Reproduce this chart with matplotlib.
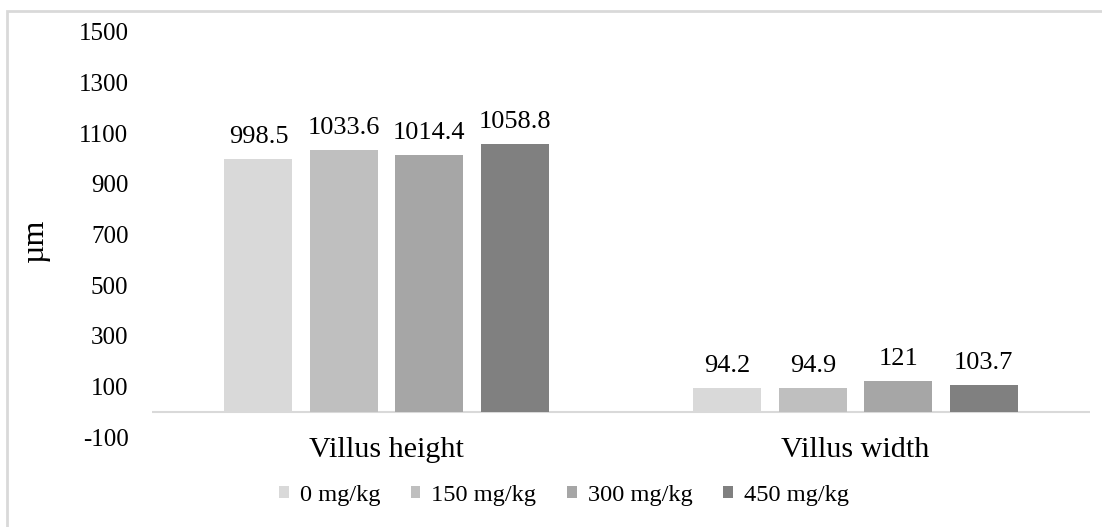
import matplotlib
matplotlib.use("Agg")
import matplotlib.pyplot as plt
from matplotlib.patches import Rectangle
import numpy as np

categories = ["Villus height", "Villus width"]
series_names = ["0 mg/kg", "150 mg/kg", "300 mg/kg", "450 mg/kg"]
values_0 = [998.5, 94.2]
values_150 = [1033.6, 94.9]
values_300 = [1014.4, 121]
values_450 = [1058.8, 103.7]
value_labels = [["998.5", "94.2"], ["1033.6", "94.9"], ["1014.4", "121"], ["1058.8", "103.7"]]
yticks = [-100, 100, 300, 500, 700, 900, 1100, 1300, 1500]

series = [values_0, values_150, values_300, values_450]
colors = ["#D9D9D9", "#BFBFBF", "#A6A6A6", "#808080"]

plt.rcParams['font.family'] = ['Liberation Serif', 'DejaVu Serif']

W, H = 1102, 527
fig = plt.figure(figsize=(W / 100, H / 100), dpi=100)
ax = fig.add_axes([152 / W, 1 - 437 / H, (1090 - 152) / W, (437 - 32) / H])

x = np.arange(len(categories))
pitch = 0.182
bw = 0.145
for i, (vals, c) in enumerate(zip(series, colors)):
    pos = x + (i - 1.5) * pitch
    bars = ax.bar(pos, vals, width=bw, color=c, label=series_names[i], zorder=2)
    for b, lab in zip(bars, value_labels[i]):
        ax.annotate(lab, (b.get_x() + b.get_width() / 2, b.get_height()),
                    xytext=(0, 8), textcoords="offset points",
                    ha="center", va="bottom", fontsize=19, color="#000000")

ax.set_xlim(-0.5, 1.5)
ax.set_ylim(-100, 1500)
ax.set_yticks(yticks)
ax.set_yticklabels([str(t) for t in yticks], fontsize=18)
ax.set_xticks(x)
ax.set_xticklabels(categories, fontsize=21.7)
ax.tick_params(axis='both', length=0)
ax.tick_params(axis='y', pad=17)
ax.tick_params(axis='x', pad=0)
for s in ax.spines.values():
    s.set_visible(False)
ax.axhline(0, color="#D9D9D9", lw=1.5, zorder=1)

fig.text(35 / W, 1 - 240 / H, "µm", rotation=90, fontsize=23, ha="center", va="center")

leg = fig.legend(loc="center", bbox_to_anchor=(564 / W, 1 - 495 / H), ncol=4,
                 frameon=False, fontsize=17.6, handlelength=0.38, handleheight=0.38,
                 handletextpad=0.45, columnspacing=1.27, borderpad=0, borderaxespad=0)

fig.patches.append(Rectangle((7 / W, -0.1), 1.2, 1 - 11 / H + 0.1, transform=fig.transFigure,
                             fill=False, edgecolor="#D9D9D9", lw=2))

fig.savefig("out.png", dpi=100)
